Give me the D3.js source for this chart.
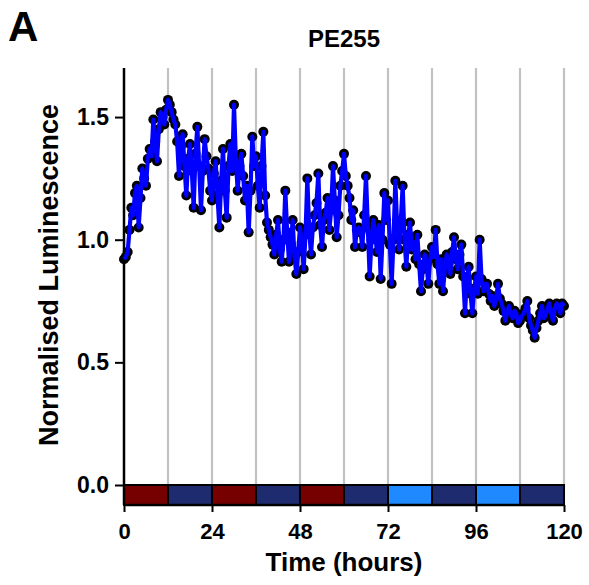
<!DOCTYPE html>
<html>
<head>
<meta charset="utf-8">
<script src="https://cdn.jsdelivr.net/npm/d3@7"></script>
<style>
  body { margin: 0; background: #fff; }
  text { font-family: "Liberation Sans", Arial, sans-serif; font-weight: bold; }
</style>
</head>
<body>
<div id="vis"></div>
<script>
// Readings every half hour, 0..120 h (one row per hour: h, h+0.5)
const hours = d3.range(0, 120.5, 0.5);
const lum = [
  0.92, 0.93,  0.95, 1.04,  1.13, 1.10,  1.19, 1.22,  1.05, 1.17,
  1.29, 1.25,  1.22, 1.33,  1.37, 1.34,  1.49, 1.40,  1.32, 1.45,
  1.52, 1.50,  1.47, 1.53,  1.57, 1.55,  1.52, 1.49,  1.47, 1.40,
  1.26, 1.38,  1.43, 1.30,  1.18, 1.33,  1.39, 1.28,  1.13, 1.35,
  1.46, 1.30,  1.12, 1.28,  1.41, 1.34,  1.29, 1.20,  1.16, 1.27,
  1.32, 1.18,  1.05, 1.24,  1.37, 1.20,  1.09, 1.30,  1.39, 1.28,
  1.55, 1.33,  1.20, 1.30,  1.35, 1.26,  1.16, 1.22,  1.03, 1.20,
  1.42, 1.30,  1.34, 1.22,  1.13, 1.30,  1.44, 1.18,  1.07, 1.04,
  1.01, 0.98,  0.94, 1.02,  1.08, 0.96,  0.91, 1.00,  1.20, 1.03,
  0.91, 0.98,  1.08, 0.93,  0.86, 0.95,  1.05, 0.99,  0.88, 1.02,
  1.25, 1.04,  0.94, 1.05,  1.10, 1.15,  1.27, 1.06,  0.97, 1.08,
  1.11, 1.17,  1.04, 1.12,  1.30, 1.16,  1.01, 1.10,  1.22, 1.28,
  1.35, 1.26,  1.22, 1.17,  1.08, 1.12,  0.97, 1.04,  1.05, 1.03,
  0.97, 1.10,  1.26, 1.05,  0.85, 1.00,  1.08, 1.02,  0.95, 1.06,
  0.84, 1.00,  1.19, 1.08,  1.16, 0.98,  0.82, 1.00,  1.24, 1.05,
  0.96, 1.08,  1.22, 1.00,  0.89, 1.02,  1.07, 0.96,  0.99, 0.92,
  1.02, 0.90,  0.79, 0.88,  0.94, 0.90,  0.82, 0.92,  0.97, 0.93,
  1.04, 0.90,  0.82, 0.92,  0.79, 0.88,  0.94, 0.90,  0.86, 0.95,
  1.01, 0.92,  0.88, 0.94,  0.98, 0.85,  0.70, 0.84,  0.89, 0.78,
  0.70, 0.80,  0.85, 0.78,  1.00, 0.84,  0.79, 0.82,  0.82, 0.78,
  0.75, 0.77,  0.73, 0.76,  0.82, 0.76,  0.74, 0.71,  0.67, 0.70,
  0.73, 0.70,  0.68, 0.71,  0.70, 0.66,  0.67, 0.69,  0.70, 0.72,
  0.75, 0.68,  0.65, 0.63,  0.60, 0.64,  0.67, 0.70,  0.73, 0.68,
  0.69, 0.72,  0.74, 0.70,  0.67, 0.72,  0.74, 0.73,  0.70, 0.74,
  0.73
];

// Light condition bar (12 h blocks)
const blockStart = [0, 12, 24, 36, 48, 60, 72, 84, 96, 108];
const blockType = ['warm', 'dark', 'warm', 'dark', 'warm', 'dark', 'light', 'dark', 'light', 'dark'];
const blockColor = { warm: '#760000', dark: '#1f2b6f', light: '#1f8aff' };

const xTicks = [0, 24, 48, 72, 96, 120];
const yTicks = [0, 0.5, 1.0, 1.5];
const gridHours = [12, 24, 36, 48, 60, 72, 84, 96, 108, 120];

const W = 589, H = 585;
const plotLeft = 124, plotRight = 564, plotTop = 68, zeroY = 485, plotBottom = 505;

const svg = d3.select('#vis')
    .append('svg')
    .attr('width', W)
    .attr('height', H);

const x = d3.scaleLinear().domain([0, 120]).range([plotLeft, plotRight]);
const y = d3.scaleLinear().domain([0, 1.7]).range([zeroY, plotTop]);

// vertical gridlines
svg.append('g')
    .selectAll('line')
    .data(gridHours)
    .join('line')
    .attr('x1', d => x(d)).attr('x2', d => x(d))
    .attr('y1', plotTop).attr('y2', plotBottom)
    .attr('stroke', '#c2c2c2')
    .attr('stroke-width', 2.2);

// colour bar below zero
svg.append('g')
    .selectAll('rect')
    .data(blockStart)
    .join('rect')
    .attr('x', d => x(d))
    .attr('y', zeroY)
    .attr('width', x(12) - x(0))
    .attr('height', plotBottom - zeroY)
    .attr('fill', (d, i) => blockColor[blockType[i]])
    .attr('stroke', '#000')
    .attr('stroke-width', 2);

// axes
const xAxis = svg.append('g')
    .attr('transform', `translate(0,${plotBottom})`)
    .call(d3.axisBottom(x).tickValues(xTicks).tickFormat(d3.format('d')).tickSize(7).tickPadding(11));

const yAxis = svg.append('g')
    .attr('transform', `translate(${plotLeft},0)`)
    .call(d3.axisLeft(y).tickValues(yTicks).tickFormat(d3.format('.1f')).tickSize(9).tickPadding(6));

[xAxis, yAxis].forEach(a => {
    a.select('.domain').attr('stroke', '#000').attr('stroke-width', 2.5);
    a.selectAll('.tick line').attr('stroke', '#000').attr('stroke-width', 2);
    a.selectAll('.tick text').attr('fill', '#000').style('font-size', '22px');
});
yAxis.selectAll('.tick text').style('font-size', '23px');
yAxis.select('.domain').attr('d', `M0,${plotTop}V${plotBottom}`);
xAxis.select('.domain').attr('d', `M${plotLeft},0H${plotRight}`);

// points then line on top
const pts = hours.map((h, i) => ({ h: h, v: lum[i] }));

svg.append('g')
    .selectAll('circle')
    .data(pts)
    .join('circle')
    .attr('cx', d => x(d.h))
    .attr('cy', d => y(d.v))
    .attr('r', 5)
    .attr('fill', '#000');

svg.append('path')
    .datum(pts)
    .attr('fill', 'none')
    .attr('stroke', '#0000ff')
    .attr('stroke-width', 4.2)
    .attr('stroke-linejoin', 'round')
    .attr('d', d3.line().x(d => x(d.h)).y(d => y(d.v)));

// labels
svg.append('text')
    .attr('x', (plotLeft + plotRight) / 2)
    .attr('y', 571)
    .attr('text-anchor', 'middle')
    .style('font-size', '26px')
    .text('Time (hours)');

svg.append('text')
    .attr('transform', `translate(58,275) rotate(-90)`)
    .attr('text-anchor', 'middle')
    .style('font-size', '27px')
    .text('Normalised Luminescence');

svg.append('text')
    .attr('x', (plotLeft + plotRight) / 2)
    .attr('y', 47)
    .attr('text-anchor', 'middle')
    .style('font-size', '24px')
    .text('PE255');

svg.append('text')
    .attr('x', 8)
    .attr('y', 41)
    .style('font-size', '42px')
    .text('A');
</script>
</body>
</html>
